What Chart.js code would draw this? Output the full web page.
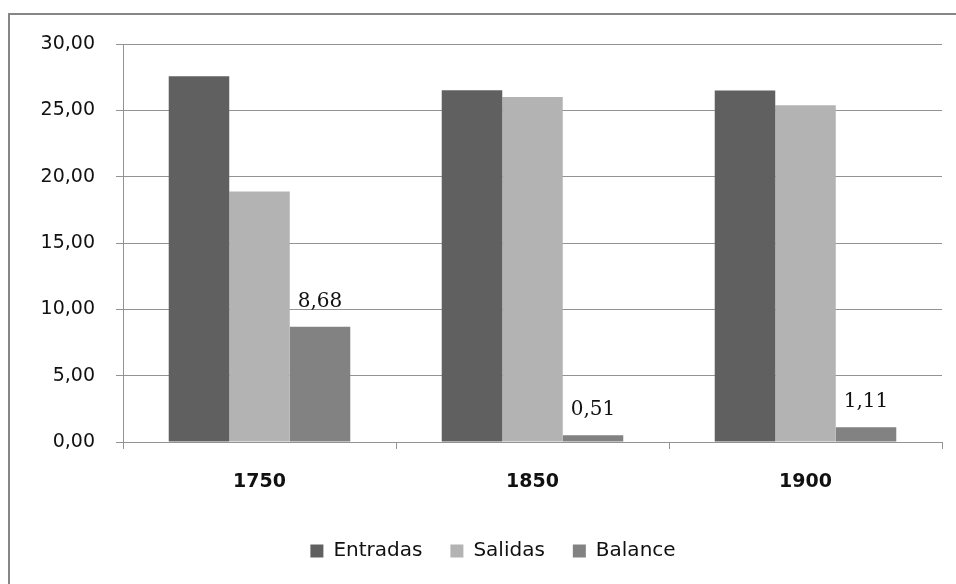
<!DOCTYPE html>
<html>
<head>
<meta charset="utf-8">
<script src="https://cdn.jsdelivr.net/npm/chart.js@4"></script>
<style>
  html, body { margin:0; padding:0; background:#fff; overflow:hidden; }
  #wrap { width:956px; height:584px; position:relative; overflow:hidden; }
  #frame { position:absolute; left:8px; top:13px; width:1000px; height:700px;
           border-top:2px solid #868686; border-left:2px solid #868686; pointer-events:none; }
  canvas { position:absolute; left:0; top:0; }
</style>
</head>
<body>
<div id="wrap"><canvas id="chart" width="956" height="584"></canvas><div id="frame"></div></div>
<script>
const years = ["1750", "1850", "1900"];
const entradas = [27.56, 26.52, 26.50];
const salidas = [18.88, 26.01, 25.39];
const balance = [8.68, 0.51, 1.11];
const yTicks = [0, 5, 10, 15, 20, 25, 30];

const fmt = (v) => Number(v).toFixed(2).replace(".", ",");
const GRID = "#939393";

// value labels over the Balance bars only
const balanceLabels = {
  id: "balanceLabels",
  afterDatasetsDraw(chart){
    const c = chart.ctx;
    const meta = chart.getDatasetMeta(2);
    c.save();
    c.font = "20px 'DejaVu Serif'";
    c.fillStyle = "#111";
    c.textAlign = "center";
    c.textBaseline = "middle";
    meta.data.forEach((bar, i) => {
      c.fillText(fmt(balance[i]), bar.x, bar.y - 25);
    });
    c.restore();
  }
};

// legend sits a bit right of the canvas centre in the original
const legendShift = {
  id: "legendShift",
  afterLayout(chart){
    if(chart.legend){
      chart.legend.left += 22;
      chart.legend.right += 22;
    }
  }
};

new Chart(document.getElementById("chart"), {
  type: "bar",
  data: {
    labels: years,
    datasets: [
      { label: "Entradas", data: entradas, backgroundColor: "#606060", borderWidth: 0 },
      { label: "Salidas", data: salidas, backgroundColor: "#b3b3b3", borderWidth: 0 },
      { label: "Balance", data: balance, backgroundColor: "#828282", borderWidth: 0 }
    ]
  },
  options: {
    responsive: false,
    animation: false,
    devicePixelRatio: 1,
    layout: { padding: { left: 0, top: 44, right: 14, bottom: 13 } },
    datasets: { bar: { categoryPercentage: 0.665, barPercentage: 1.0 } },
    plugins: {
      tooltip: { enabled: false },
      legend: {
        position: "bottom",
        labels: {
          font: { family: "'DejaVu Sans'", size: 20 },
          color: "#111",
          boxWidth: 13,
          boxHeight: 13,
          padding: 28
        }
      }
    },
    scales: {
      x: {
        afterFit(s){ s.height = 71; },
        grid: { display: true, drawOnChartArea: false, color: GRID, tickLength: 7, offset: true },
        border: { color: GRID, width: 1 },
        ticks: { font: { family: "'DejaVu Sans'", size: 19, weight: "bold" }, color: "#111", padding: 22 }
      },
      y: {
        min: 0,
        max: 30,
        afterFit(s){ s.width = 123; },
        afterBuildTicks(s){ s.ticks = yTicks.map(v => ({ value: v })); },
        grid: { color: GRID, tickLength: 7 },
        border: { color: GRID, width: 1 },
        ticks: { font: { family: "'DejaVu Sans'", size: 19 }, color: "#111", padding: 21, callback: (v) => fmt(v) }
      }
    }
  },
  plugins: [balanceLabels, legendShift]
});
</script>
</body>
</html>
